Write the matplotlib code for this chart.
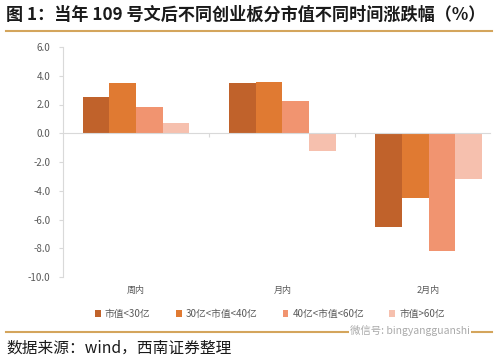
import matplotlib
matplotlib.use("Agg")
import matplotlib.pyplot as plt
import matplotlib.transforms as mtransforms
from matplotlib.patches import Patch
from matplotlib.lines import Line2D
import numpy as np

plt.rcParams['font.family'] = ['Noto Sans CJK SC', 'DejaVu Sans']

categories = ["周内", "月内", "2月内"]
series_names = ["市值<30亿", "30亿<市值<40亿", "40亿<市值<60亿", "市值>60亿"]
s1 = [2.5, 3.5, -6.5]
s2 = [3.5, 3.6, -4.5]
s3 = [1.8, 2.25, -8.2]
s4 = [0.7, -1.2, -3.2]
series = [s1, s2, s3, s4]
colors = ["#C0622B", "#E07A32", "#F19470", "#F6C0AE"]
yticks = [6, 4, 2, 0, -2, -4, -6, -8, -10]

fig = plt.figure(figsize=(5.0, 3.57), dpi=100)
ax = fig.add_axes([63/500, 1-277/357, (490-63)/500, (277-47)/357])

x = np.arange(len(categories))
w = 0.1825
for i, (vals, c) in enumerate(zip(series, colors)):
    ax.bar(x + (i - 1.5) * w, vals, width=w, color=c, label=series_names[i], zorder=2)

ax.set_xlim(-0.5, 2.42)
ax.set_ylim(-10, 6)
ax.set_yticks(yticks)
ax.set_yticklabels([f"{v:.1f}" for v in yticks])
ax.tick_params(axis='y', labelsize=7, colors='#D9D9D9', labelcolor='#595959', length=3, width=0.8, pad=6)

for s in ['top', 'right']:
    ax.spines[s].set_visible(False)
ax.spines['left'].set_color('#D9D9D9')
ax.spines['left'].set_linewidth(0.8)
ax.spines['bottom'].set_position(('data', 0))
ax.spines['bottom'].set_color('#D9D9D9')
ax.spines['bottom'].set_linewidth(0.8)
ax.set_xticks([0.5, 1.5])
ax.set_xticklabels([])
ax.tick_params(axis='x', colors='#D9D9D9', length=3, width=0.8, direction='out')

trans = mtransforms.blended_transform_factory(ax.transData, fig.transFigure)
for xi, cat in zip(x, categories):
    ax.text(xi, 1 - 290/357, cat, transform=trans, ha='center', va='center',
            fontsize=6.5, color='#595959')

handles = [Patch(facecolor=c, edgecolor='none') for c in colors]
fig.legend(handles, series_names, loc='center', bbox_to_anchor=(0.54, 1 - 314/357),
           ncol=4, frameon=False, fontsize=7, handlelength=0.6, handleheight=0.6,
           handletextpad=0.4, columnspacing=2.6, labelcolor='#595959')

# Title
fig.text(0.012, 1 - 15/357, "图 1：当年 109 号文后不同创业板分市值不同时间涨跌幅（%）",
         fontsize=12.3, fontweight='bold', color='#1a1a1a', ha='left', va='center')
fig.add_artist(Line2D([6/500, 492/500], [1 - 31/357, 1 - 31/357], color='#D4A55C', lw=1.5))

# Bottom rule and watermark
fig.add_artist(Line2D([6/500, 492/500], [1 - 332/357, 1 - 332/357], color='#D4A55C', lw=1.5))
fig.text(0.82, 1 - 331/357, "微信号: bingyangguanshi", fontsize=7.5, color='#AAAAAA',
         ha='center', va='center', bbox=dict(facecolor='white', edgecolor='none', pad=1))
fig.text(0.012, 1 - 348/357, "数据来源：wind，西南证券整理", fontsize=11.3, style='italic',
         color='#1a1a1a', ha='left', va='center')

fig.savefig("out.png", dpi=100)
